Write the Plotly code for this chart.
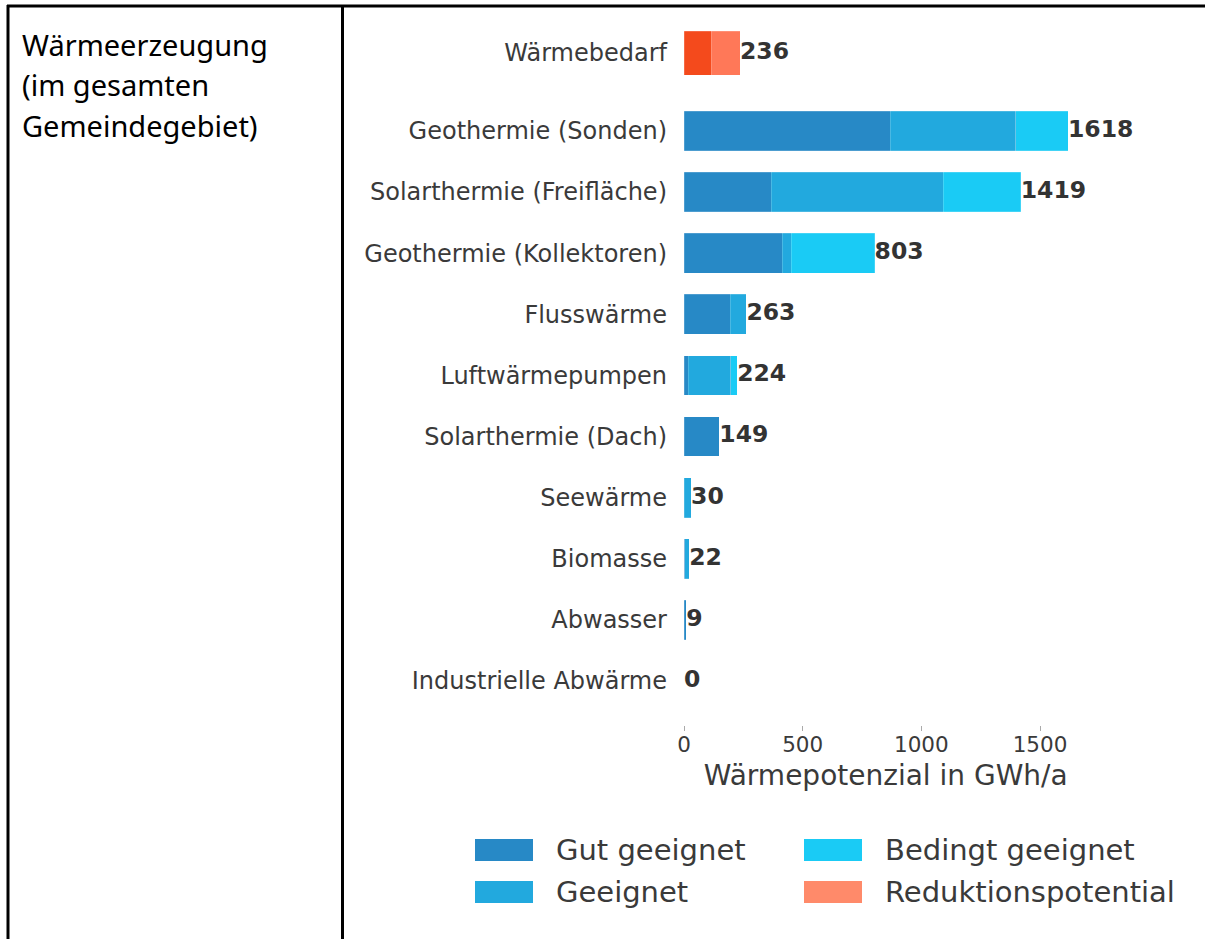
import plotly.graph_objects as go

W, H = 1205, 939

# data (GWh/a)
categories = ['Geothermie (Sonden)', 'Solarthermie (Freifläche)', 'Geothermie (Kollektoren)',
              'Flusswärme', 'Luftwärmepumpen', 'Solarthermie (Dach)', 'Seewärme',
              'Biomasse', 'Abwasser', 'Industrielle Abwärme']
gut = [869, 367, 413, 194, 17, 149, 0, 3, 9, 0]
geeignet = [528, 726, 38, 69, 181, 0, 30, 19, 0, 0]
bedingt = [221, 326, 352, 0, 26, 0, 0, 0, 0, 0]
totals = [1618, 1419, 803, 263, 224, 149, 30, 22, 9, 0]

bedarf_cat = ['Wärmebedarf']
bedarf_rest = [114]
bedarf_reduktion = [122]
bedarf_total = [236]

x_ticks = [0, 500, 1000, 1500]

c_gut = '#2789c6'
c_geeignet = '#22a9de'
c_bedingt = '#1acbf5'
c_bedarf = '#f44a1c'
c_reduktion = '#ff7858'
c_reduktion_leg = '#ff8a6a'

legend_labels = ['Gut geeignet', 'Geeignet', 'Bedingt geeignet', 'Reduktionspotential']
legend_colors = [c_gut, c_geeignet, c_bedingt, c_reduktion_leg]

edge = dict(width=0.5, color='rgba(255,255,255,0.35)')
txt_color = '#3a3a3a'
valfont = dict(family='DejaVu Sans', size=23.5, color='#333333', weight='bold')

fig = go.Figure()
for vals, col, name in [(gut, c_gut, 'Gut geeignet'), (geeignet, c_geeignet, 'Geeignet'),
                        (bedingt, c_bedingt, 'Bedingt geeignet')]:
    fig.add_trace(go.Bar(y=categories, x=vals, orientation='h', name=name,
                         marker=dict(color=col, line=edge), width=0.65,
                         xaxis='x', yaxis='y', showlegend=False))
fig.add_trace(go.Scatter(y=categories, x=totals, mode='text', text=[str(v) for v in totals],
                         textposition='middle right', textfont=valfont,
                         xaxis='x', yaxis='y', showlegend=False, cliponaxis=False))

fig.add_trace(go.Bar(y=bedarf_cat, x=bedarf_rest, orientation='h', marker=dict(color=c_bedarf, line=edge),
                     width=0.65, xaxis='x2', yaxis='y2', showlegend=False))
fig.add_trace(go.Bar(y=bedarf_cat, x=bedarf_reduktion, orientation='h', name='Reduktionspotential',
                     marker=dict(color=c_reduktion, line=edge), width=0.65,
                     xaxis='x2', yaxis='y2', showlegend=False))
fig.add_trace(go.Scatter(y=bedarf_cat, x=bedarf_total, mode='text', text=[str(v) for v in bedarf_total],
                         textposition='middle right', textfont=valfont,
                         xaxis='x2', yaxis='y2', showlegend=False, cliponaxis=False))

px0 = 684
pscale = 356 / 1500
xmax = 1700
xdom = [px0 / W, (px0 + xmax * pscale) / W]

def py(p):
    return 1 - p / H

tickfont = dict(family='DejaVu Sans', size=24, color=txt_color)

fig.update_layout(
    width=W, height=H, margin=dict(l=0, r=0, t=0, b=0, autoexpand=False),
    paper_bgcolor='white', plot_bgcolor='white', barmode='stack',
    xaxis=dict(domain=xdom, range=[0, xmax], anchor='y', tickvals=x_ticks, automargin=False,
               showgrid=False, zeroline=False, showline=False,
               ticks='outside', ticklen=5, tickcolor='#aaaaaa', ticklabelstandoff=-5,
               tickfont=dict(family='DejaVu Sans', size=21.5, color=txt_color),
               title=dict(text='Wärmepotenzial in GWh/a', standoff=9,
                          font=dict(family='DejaVu Sans', size=28, color=txt_color))),
    yaxis=dict(domain=[py(725), py(94.3)], range=[9.72, -0.6], anchor='x', automargin=False,
               showgrid=False, zeroline=False, showline=False, ticks='',
               ticklabelstandoff=16, tickfont=tickfont),
    xaxis2=dict(domain=xdom, range=[0, xmax], anchor='y2', matches='x', visible=False,
                automargin=False),
    yaxis2=dict(domain=[py(86.85), py(19.15)], range=[0.5, -0.5], anchor='x2', automargin=False,
                showgrid=False, zeroline=False, showline=False, ticks='',
                ticklabelstandoff=16, tickfont=tickfont),
)

# table borders
line = dict(color='black', width=3)
fig.add_shape(type='line', xref='paper', yref='paper', x0=7 / W, x1=1, y0=py(6), y1=py(6), line=line)
fig.add_shape(type='line', xref='paper', yref='paper', x0=8 / W, x1=8 / W, y0=0, y1=py(5), line=line)
fig.add_shape(type='line', xref='paper', yref='paper', x0=342.5 / W, x1=342.5 / W, y0=0, y1=py(5), line=line)

# left cell text
left_lines = ['Wärmeerzeugung', '(im gesamten', 'Gemeindegebiet)']
for i, t in enumerate(left_lines):
    fig.add_annotation(xref='paper', yref='paper', x=20 / W, y=py(45 + i * 40), text=t,
                       showarrow=False, xanchor='left', yanchor='middle',
                       font=dict(family='Noto Sans', size=29, color='black'))

# legend (two columns)
leg_x = [475, 475, 804, 804]
leg_y = [850, 892, 850, 892]
for lab, col, lx, ly in zip(legend_labels, legend_colors, leg_x, leg_y):
    fig.add_shape(type='rect', xref='paper', yref='paper', x0=lx / W, x1=(lx + 58) / W,
                  y0=py(ly + 11), y1=py(ly - 11), fillcolor=col, line=dict(width=0))
    fig.add_annotation(xref='paper', yref='paper', x=(lx + 79) / W, y=py(ly), text=lab,
                       showarrow=False, xanchor='left', yanchor='middle',
                       font=dict(family='DejaVu Sans', size=29, color=txt_color))

fig.write_html('out.html', config={'displayModeBar': False},
               post_script="document.body.style.margin='0';document.body.style.overflow='hidden';")
